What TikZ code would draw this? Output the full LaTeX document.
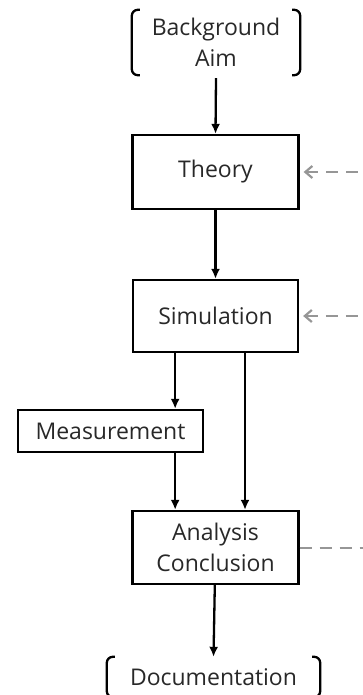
\documentclass[tikz,border=0pt]{standalone}
\usepackage{fontspec}
\setmainfont{Open Sans}
\definecolor{fbgray}{RGB}{150,150,150}
\definecolor{ink}{RGB}{40,40,40}
\usetikzlibrary{arrows.meta,positioning}

\begin{document}
\begin{tikzpicture}[x=1pt,y=-1pt,
    font=\fontsize{23}{31}\selectfont,
    stepbox/.style={draw, line width=2.3pt, align=center, inner sep=0pt, text=ink},
    brace/.style={align=center, inner sep=0pt, text=ink},
    flow/.style={line width=2.3pt, -{Latex[length=10pt,width=9pt]}},
    feedback/.style={fbgray, line width=2.2pt, dash pattern=on 12pt off 8pt},
    bracket/.style={line width=2.3pt, rounded corners=6pt}]
  \useasboundingbox (0,0) rectangle (363,695);

  % steps
  \node[brace, minimum width=168pt, minimum height=65pt] (aim) at (216,42.5) {Background\\Aim};
  \node[stepbox, minimum width=166pt, minimum height=74pt] (theory) at (215.5,172) {Theory};
  \node[stepbox, minimum width=165pt, minimum height=72pt] (sim) at (215.5,316) {Simulation};
  \node[stepbox, minimum width=185pt, minimum height=42pt] (meas) at (110.5,431) {Measurement};
  \node[stepbox, minimum width=166pt, minimum height=73pt] (ana) at (215.5,547.5) {Analysis\\Conclusion};
  \node[brace, minimum width=213pt, minimum height=40pt] (doc) at (213.5,677) {Documentation};

  % brackets
  \draw[bracket] ([xshift=8pt]aim.north west) -- (aim.north west) -- (aim.south west) -- ([xshift=8pt]aim.south west);
  \draw[bracket] ([xshift=-8pt]aim.north east) -- (aim.north east) -- (aim.south east) -- ([xshift=-8pt]aim.south east);
  \draw[bracket] ([xshift=8pt]doc.north west) -- (doc.north west) -- (doc.south west) -- ([xshift=8pt]doc.south west);
  \draw[bracket] ([xshift=-8pt]doc.north east) -- (doc.north east) -- (doc.south east) -- ([xshift=-8pt]doc.south east);

  % main flow
  \draw[flow] ([yshift=-3pt]aim.south) -- (theory.north);
  \draw[flow] (theory) -- (sim);
  \draw[flow] (sim.south -| meas.south east) ++(-29pt,0) coordinate (simL) -- (simL |- meas.north);
  \draw[flow] (meas.south -| simL) -- (ana.north -| simL);
  \draw[flow] ([xshift=29.5pt]sim.south) coordinate (simR) -- (ana.north -| simR);
  \draw[flow] (ana) -- (doc.north);

  % feedback from the right
  \coordinate (thR) at (363,172);
  \coordinate (simRt) at (363,316);
  \coordinate (anaR) at (363,548);
  \draw[feedback, {Straight Barb[length=7pt,width=12pt]}-] ([xshift=4pt]theory.east) -- (thR);
  \draw[feedback, {Straight Barb[length=7pt,width=12pt]}-] ([xshift=4pt]sim.east) -- (simRt);
  \draw[feedback] (ana.east |- anaR) -- (anaR);
\end{tikzpicture}
\end{document}
